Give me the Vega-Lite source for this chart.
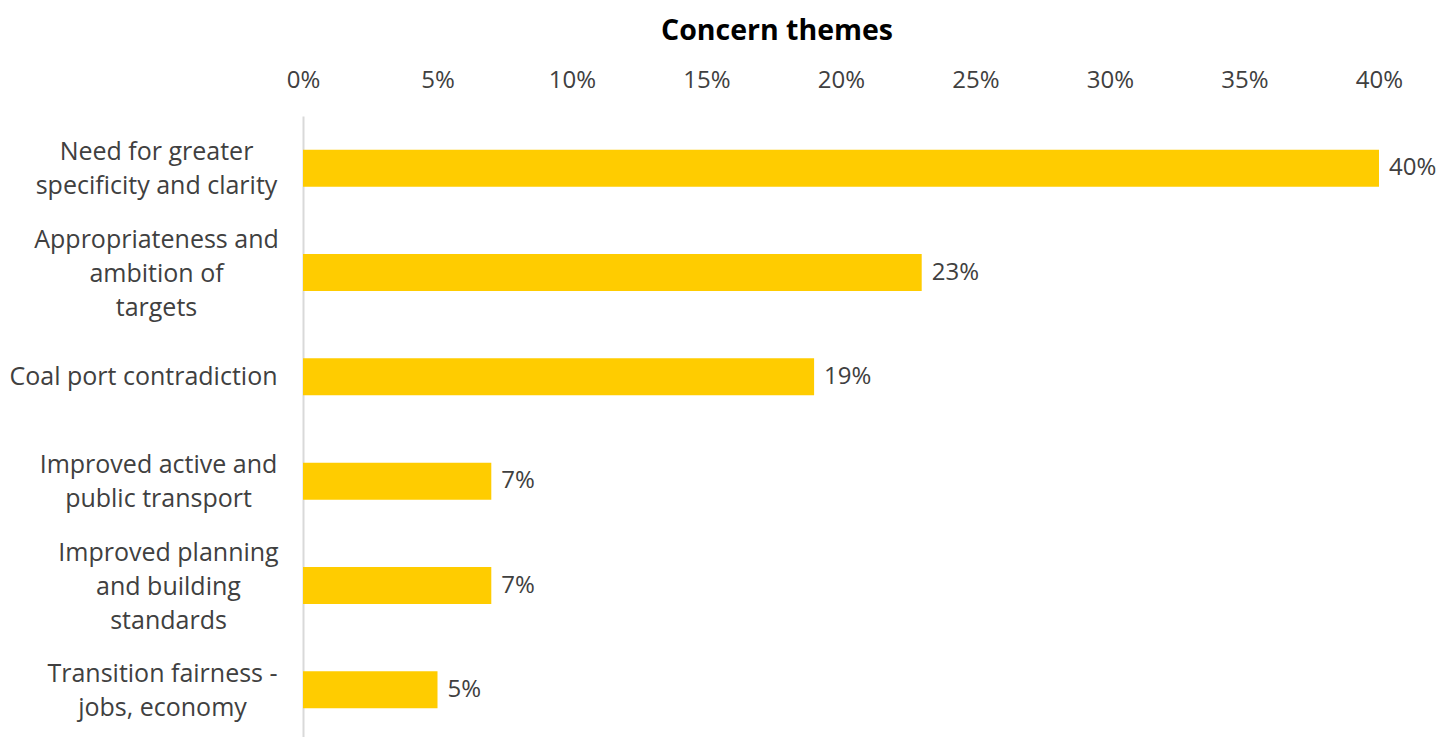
{
  "$schema": "https://vega.github.io/schema/vega-lite/v6.json",
  "autosize": "none",
  "padding": {"left": 303, "top": 116, "right": 63, "bottom": 0},
  "width": 1076,
  "height": 626,
  "background": "white",
  "title": {"text": "Concern themes", "fontSize": 28.5, "fontWeight": "bold", "font": "Open Sans", "color": "#000000", "anchor": "middle", "frame": "group", "dx": -64, "offset": 23},
  "config": {"view": {"stroke": null}, "font": "Open Sans"},
  "data": {"values": [
    {"theme": "Need for greater|specificity and clarity", "share": 0.40},
    {"theme": "Appropriateness and|ambition of|targets", "share": 0.23},
    {"theme": "Coal port contradiction", "share": 0.19},
    {"theme": "Improved active and|public transport", "share": 0.07},
    {"theme": "Improved planning|and building|standards", "share": 0.07},
    {"theme": "Transition fairness -|jobs, economy", "share": 0.05}
  ]},
  "encoding": {
    "y": {"field": "theme", "type": "nominal", "sort": null,
      "scale": {"paddingInner": 0.645, "paddingOuter": 0.3225},
      "axis": {"title": null, "orient": "left", "ticks": false, "domain": true, "domainColor": "#d9d9d9", "domainWidth": 2,
        "labelExpr": "split(datum.label, '|')", "labelAlign": "center", "labelBaseline": "middle",
        "labelFontSize": 25, "labelColor": "#404040", "labelLineHeight": 34, "labelLimit": 400,
        "labelOffset": {"condition": [
          {"test": "datum.value == 'Appropriateness and|ambition of|targets' || datum.value == 'Improved planning|and building|standards'", "value": -33},
          {"test": "datum.value == 'Coal port contradiction'", "value": 0}
        ], "value": -16},
        "labelPadding": {"condition": [
          {"test": "datum.value == 'Coal port contradiction'", "value": 160},
          {"test": "datum.value == 'Improved active and|public transport'", "value": 145},
          {"test": "datum.value == 'Improved planning|and building|standards'", "value": 135},
          {"test": "datum.value == 'Transition fairness -|jobs, economy'", "value": 141}
        ], "value": 147}}},
    "x": {"field": "share", "type": "quantitative",
      "scale": {"domain": [0, 0.4]},
      "axis": {"title": null, "orient": "top", "format": ".0%", "values": [0, 0.05, 0.1, 0.15, 0.2, 0.25, 0.3, 0.35, 0.4],
        "ticks": false, "tickSize": 0, "domain": false, "grid": false, "labelPadding": 24,
        "labelFontSize": 24, "labelColor": "#404040", "labelFlush": false, "labelOverlap": false}}
  },
  "layer": [
    {"mark": {"type": "bar", "color": "#FFCC00"}},
    {"mark": {"type": "text", "align": "left", "baseline": "middle", "dx": 10, "fontSize": 24, "color": "#404040"},
      "encoding": {"text": {"field": "share", "type": "quantitative", "format": ".0%"}}}
  ]
}
